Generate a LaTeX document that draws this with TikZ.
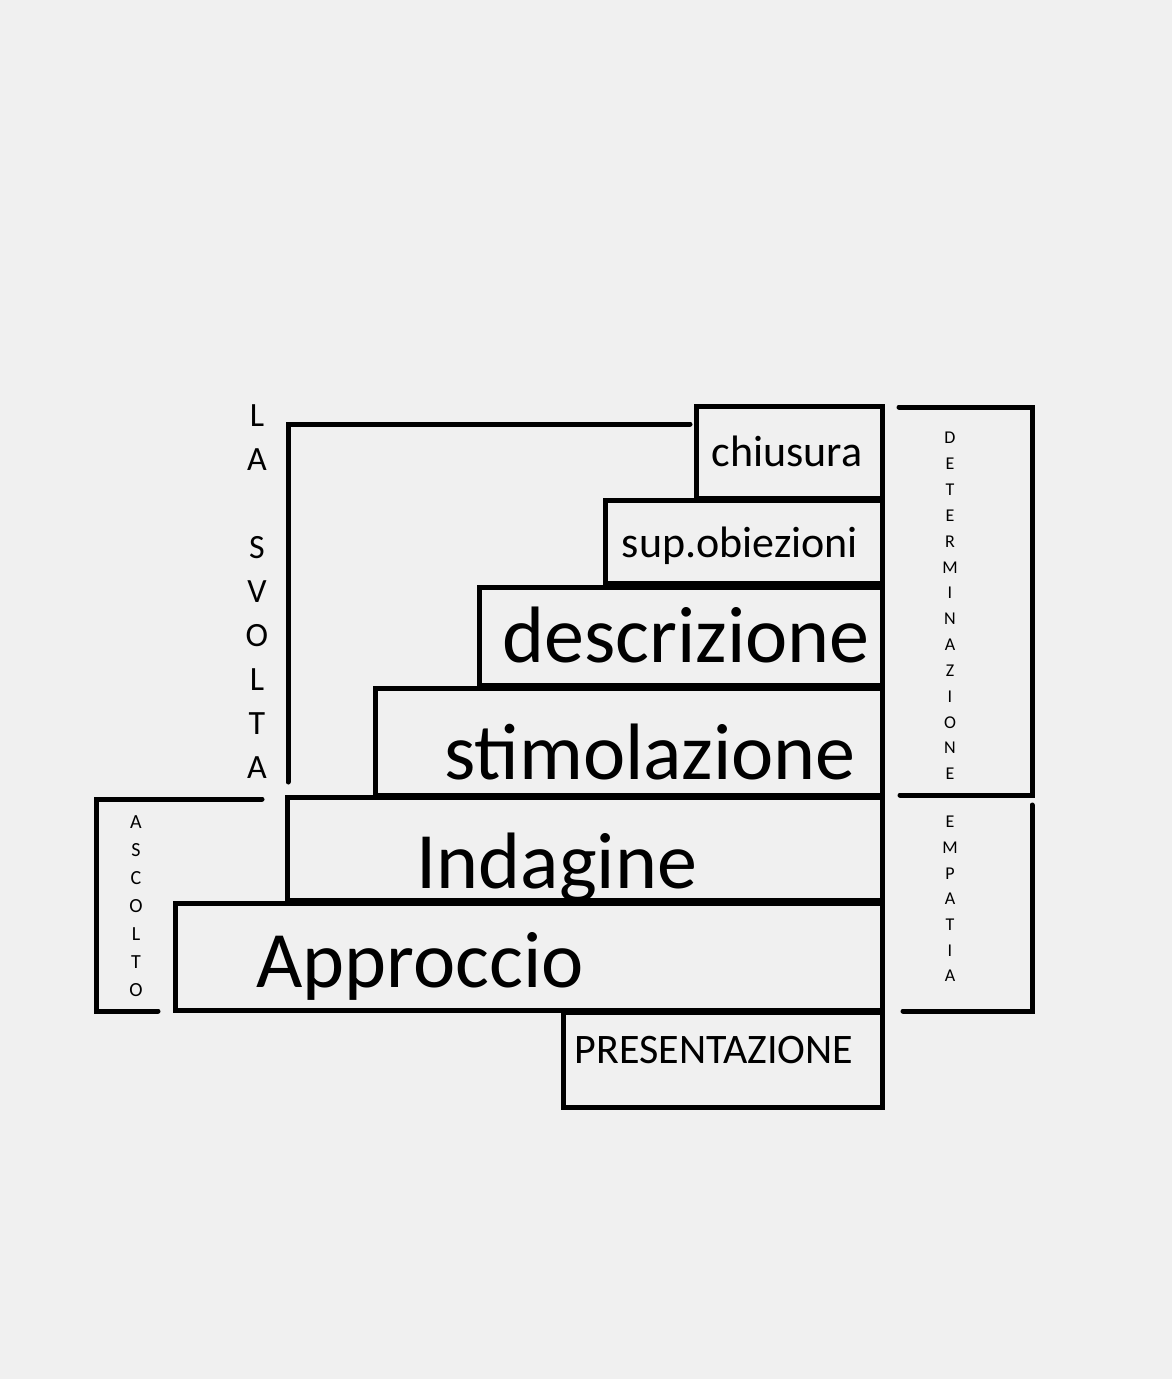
\documentclass[tikz,border=0pt]{standalone}
\usepackage{fontspec}
\setmainfont{Carlito}
\usetikzlibrary{positioning}
\definecolor{bgcol}{HTML}{F0F0F0}

\begin{document}
\begin{tikzpicture}[
    x=1pt, y=-1pt,
    stepbox/.style={draw, line width=5pt, rectangle, inner sep=0pt},
    big/.style={anchor=base, inner sep=0pt, font=\fontsize{80}{90}\selectfont},
    small/.style={anchor=base, inner sep=0pt, font=\fontsize{44}{50}\selectfont},
    bracket/.style={line width=5pt, line cap=round},
    vlet/.style={inner sep=0pt, font=\fontsize{34}{36}\selectfont},
    tinylet/.style={inner sep=0pt, font=\fontsize{20}{22}\selectfont},
    sidelet/.style={inner sep=0pt, font=\fontsize{18}{20}\selectfont},
]

\useasboundingbox[fill=bgcol] (0,0) rectangle (1172,1379);

% Steps
\node[stepbox, minimum width=186pt, minimum height=92pt] (chiusbox) at (789,452) {};
\node[stepbox, minimum width=277pt, minimum height=83pt] (supbox) at (743.5,541.5) {};
\node[stepbox, minimum width=403pt, minimum height=98pt] (descbox) at (680.5,636) {};
\node[stepbox, minimum width=507pt, minimum height=107pt] (stimbox) at (628.5,741.5) {};
\node[stepbox, minimum width=595pt, minimum height=103pt] (indbox) at (584.5,848.5) {};
\node[stepbox, minimum width=707pt, minimum height=107pt] (apprbox) at (528.5,956.5) {};
\node[stepbox, minimum width=319pt, minimum height=95pt] (presbox) at (722.5,1059.5) {};

% Labels of the steps
\node[small] (chius) at (787,466) {chiusura};
\node[small] (sup) at (740,557) {sup.obiezioni};
\node[big] (desc) at (686,662) {descrizione};
\node[big] (stim) at (650,779) {stimolazione};
\node[big] (ind) at (557,888) {Indagine};
\node[big] (appr) at (420,987) {Approccio};
\node[anchor=base, inner sep=0pt, font=\fontsize{42}{48}\selectfont] (pres) at (714,1063) {PRESENTAZIONE};

% Brackets
\draw[bracket] (690,424) -- (288,424) -- (288,782);
\draw[bracket] (262,799) -- (96,799) -- (96,1011) -- (158,1011);
\draw[bracket] (899,407) -- (1032,407) -- (1032,795) -- (900,795);
\draw[bracket] (1032,805) -- (1032,1011) -- (903,1011);

% Vertical words
\foreach \l/\y [count=\i] in {L/416, A/460, S/548, V/592, O/636, L/680, T/724, A/768}
  \node[vlet] (sv\i) at (257,\y) {\l};
\foreach \l [count=\i] in {A,S,C,O,L,T,O}
  \node[tinylet] (asc\i) at (136,{822+28*(\i-1)}) {\l};
\foreach \l [count=\i] in {D,E,T,E,R,M,I,N,A,Z,I,O,N,E}
  \node[sidelet] (det\i) at (950,{438+25.85*(\i-1)}) {\l};
\foreach \l [count=\i] in {E,M,P,A,T,I,A}
  \node[sidelet] (emp\i) at (950,{822+25.7*(\i-1)}) {\l};

\end{tikzpicture}
\end{document}
